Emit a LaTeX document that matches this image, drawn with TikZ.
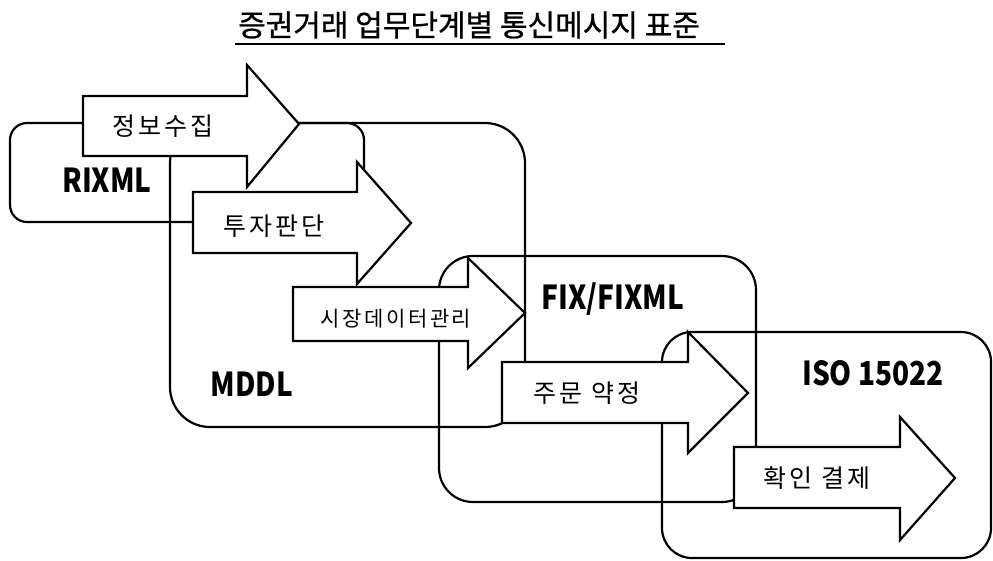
\documentclass[tikz,border=0pt]{standalone}
\usepackage{fontspec}
\setmainfont{Noto Sans CJK KR}
\newfontfamily\krfont{Noto Sans CJK KR}
\newfontfamily\krtitle[FakeBold=0.8]{Noto Sans CJK KR}
\newfontfamily\krspaced[LetterSpace=12]{Noto Sans CJK KR}
\newfontfamily\krnarrow[FakeStretch=0.85]{Noto Sans CJK KR}
\begin{document}
\begin{tikzpicture}[x=1pt,y=-1pt,
  frame/.style={draw=black, line width=2.2pt},
  stage/.style={draw=black, fill=white, line width=2.2pt, line join=miter},
  stagetext/.style={font=\krspaced\fontsize{25}{25}\selectfont, inner sep=0pt},
  stdname/.style={font=\krnarrow\bfseries\fontsize{33}{33}\selectfont, inner sep=0pt}]
\useasboundingbox (0,0) rectangle (993,560);

% title with underline
\node[font=\krtitle\fontsize{30}{30}\selectfont, inner sep=0pt] (title) at (469,25) {증권거래 업무단계별 통신메시지 표준};
\draw[line width=2pt] (235,44) -- (725,44);

% standard areas
\draw[frame, rounded corners=17pt] (10,123) rectangle (364,222);
\draw[frame, rounded corners=40pt] (170,123) rectangle (525,427);
\draw[frame, rounded corners=34pt] (439,256) rectangle (756,502);
\draw[frame, rounded corners=30pt] (662,332) rectangle (991,558);

% business stages
\draw[stage] (83,96) -- (247,96) -- (247,65) -- (299,124) -- (247,187) -- (247,156) -- (83,156) -- cycle;
\draw[stage] (193,192) -- (357,192) -- (357,162) -- (411,223) -- (357,284) -- (357,253) -- (193,253) -- cycle;
\draw[stage] (293,287) -- (468,287) -- (468,258) -- (525,313) -- (468,368) -- (468,341) -- (293,341) -- cycle;
\draw[stage] (502,362) -- (688,362) -- (688,332) -- (748,393) -- (688,453) -- (688,423) -- (502,423) -- cycle;
\draw[stage] (734,447) -- (900,447) -- (900,417) -- (955,478) -- (900,540) -- (900,508) -- (734,508) -- cycle;

% stage labels
\node[stagetext] (s1) at (163,126) {정보수집};
\node[stagetext] (s2) at (274,226) {투자판단};
\node[stagetext, font=\krspaced\fontsize{21}{21}\selectfont] (s3) at (396,319) {시장데이터관리};
\node[stagetext] (s4) at (587,393) {주문 약정};
\node[stagetext] (s5) at (817,478) {확인 결제};

% standard names
\node[stdname] (n1) at (107,180) {RIXML};
\node[stdname] (n2) at (252,384) {MDDL};
\node[stdname] (n3) at (613,299) {FIX/FIXML};
\node[stdname] (n4) at (873,373) {ISO 15022};
\end{tikzpicture}
\end{document}
